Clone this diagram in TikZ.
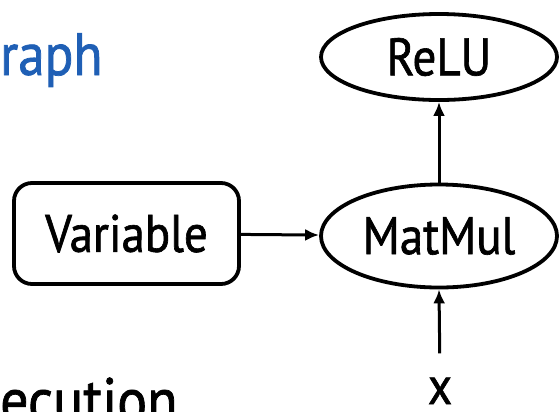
\documentclass[tikz,border=0pt]{standalone}
\usepackage{fontspec}
\setmainfont{PT Sans}[Ligatures=NoCommon,FakeStretch=0.89,FakeBold=1.2]
\usetikzlibrary{shapes.geometric,arrows.meta}
\definecolor{titleblue}{HTML}{1F5FB5}
\begin{document}
\begin{tikzpicture}[x=1bp,y=-1bp,
  op/.style={draw,ellipse,line width=3.8bp,minimum width=236bp,minimum height=86bp,inner sep=0pt,
    font=\fontsize{53}{60}\selectfont},
  varbox/.style={draw,rounded corners=18bp,line width=3.8bp,minimum width=225bp,minimum height=101bp,
    inner sep=0pt,font=\fontsize{53}{60}\selectfont},
  flow/.style={-{Latex[length=14bp,width=12bp]},line width=3bp},
  label/.style={inner sep=0pt,font=\fontsize{53}{60}\selectfont}]
\useasboundingbox (0,0) rectangle (560,411);
\clip (0,0) rectangle (560,411);
% headings
\node[label,anchor=base west,text=titleblue,font=\fontsize{60}{70}\selectfont] (head) at (0,75) {raph};
\node[label,anchor=base west,font=\fontsize{63}{70}\selectfont] (exec) at (0,422) {ecution};
% graph nodes
\node[op] (relu) at (439,57) {ReLU};
\node[op,minimum height=103bp] (matmul) at (439,236) {MatMul};
\node[varbox] (var) at (126.5,233.5) {Variable};
\node[label,anchor=base] (x) at (440,404) {x};
% edges
\draw[flow] (var) -- (matmul);
\draw[flow] (matmul) -- (relu);
\draw[flow,shorten <=24bp] (x.north) -- (matmul.south);
\end{tikzpicture}
\end{document}
